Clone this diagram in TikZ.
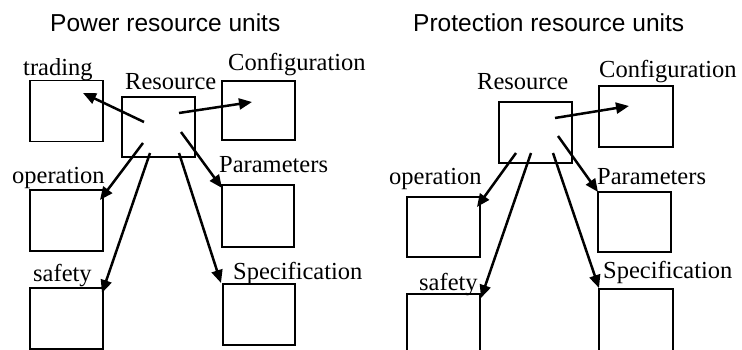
\documentclass[tikz,border=0pt]{standalone}
\usepackage{fontspec}
\setmainfont{Liberation Serif}
\setsansfont{Liberation Sans}
\usetikzlibrary{arrows.meta}
\tikzset{
  ru box/.style={draw=black, line width=1.3pt, minimum width=73pt, minimum height=61pt, inner sep=0pt},
  ru arrow/.style={draw=black, line width=2.5pt, -{Triangle[length=13pt,width=11pt]}},
  ru label/.style={font=\fontsize{24.5}{28}\selectfont, inner sep=0pt, anchor=base west},
  ru title/.style={font=\sffamily\fontsize{24.5}{28}\selectfont, inner sep=0pt, anchor=base west},
}

\begin{document}
\begin{tikzpicture}[x=1pt, y=-1pt]
  \useasboundingbox (0,0) rectangle (742,350);

  % Left: power resource units
  \node[ru title] (titleA) at (50,32) {Power resource units};

  \node[ru box] (tradA) at (66.5,111) {};
  \node[ru box, minimum height=60pt] (resA) at (158.5,127) {};
  \node[ru box, minimum height=59pt] (cfgA) at (258.5,110.5) {};
  \node[ru box, minimum width=72pt, minimum height=62pt] (parA) at (258,216) {};
  \node[ru box, minimum width=72pt] (specA) at (259,314.5) {};
  \node[ru box] (operA) at (66.5,220.5) {};
  \node[ru box] (safeA) at (66.5,318.5) {};

  \node[ru label] (tradAl) at (23,76) {trading};
  \node[ru label] (resAl) at (125,90) {Resource};
  \node[ru label] (cfgAl) at (228,71) {Configuration};
  \node[ru label] (parAl) at (219,173) {Parameters};
  \node[ru label] (specAl) at (233,279) {Specification};
  \node[ru label] (operAl) at (12,184) {operation};
  \node[ru label] (safeAl) at (33,281) {safety};

  \coordinate (sA1) at (144,122);  \coordinate (eA1) at (83,93);
  \coordinate (sA2) at (179,113);  \coordinate (eA2) at (252,102);
  \coordinate (sA3) at (181,132);  \coordinate (eA3) at (222,188);
  \coordinate (sA4) at (143,143);  \coordinate (eA4) at (100,200);
  \coordinate (sA5) at (150,153);  \coordinate (eA5) at (102,293);
  \coordinate (sA6) at (179,153);  \coordinate (eA6) at (221,283);
  \foreach \k in {1,...,6} {
    \draw[ru arrow] (sA\k) -- (eA\k);
  }

  % Right: protection resource units
  \node[ru title] (titleB) at (413,32) {Protection resource units};

  \node[ru box] (resB) at (535.5,132.5) {};
  \node[ru box, minimum width=74pt] (cfgB) at (636,116.5) {};
  \node[ru box, minimum height=60pt] (parB) at (634.5,222) {};
  \node[ru box, minimum width=74pt, minimum height=62pt] (specB) at (636,320) {};
  \node[ru box, minimum height=60pt] (operB) at (443.5,227) {};
  \node[ru box] (safeB) at (443.5,324.5) {};

  \node[ru label] (resBl) at (477,90) {Resource};
  \node[ru label] (cfgBl) at (599,78) {Configuration};
  \node[ru label] (parBl) at (597,185) {Parameters};
  \node[ru label] (specBl) at (603,278) {Specification};
  \node[ru label] (operBl) at (389,185) {operation};
  \node[ru label] (safeBl) at (419,290) {safety};

  \coordinate (sB1) at (555,118);  \coordinate (eB1) at (629,106);
  \coordinate (sB2) at (558,136);  \coordinate (eB2) at (598,192);
  \coordinate (sB3) at (516,153);  \coordinate (eB3) at (477,207);
  \coordinate (sB4) at (531,153);  \coordinate (eB4) at (481,298);
  \coordinate (sB5) at (553,153);  \coordinate (eB5) at (599,288);
  \foreach \k in {1,...,5} {
    \draw[ru arrow] (sB\k) -- (eB\k);
  }
\end{tikzpicture}
\end{document}
